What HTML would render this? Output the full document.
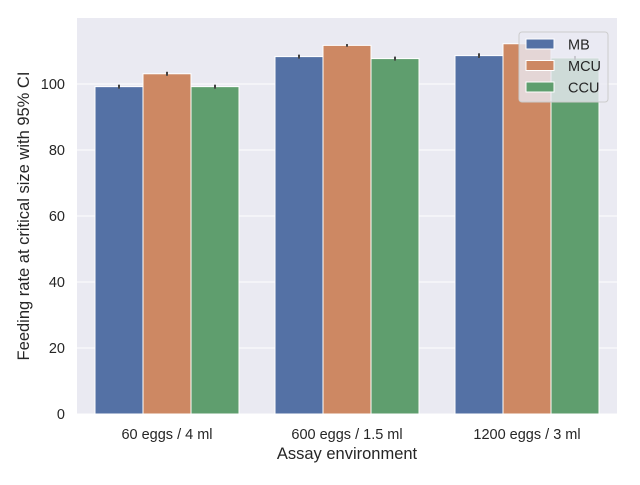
<!DOCTYPE html>
<html><head><meta charset="utf-8"><style>
body{margin:0;background:#fff;}
svg text{font-family:"Liberation Sans","DejaVu Sans",sans-serif;fill:#262626;}
</style></head><body>
<svg id="c" width="640" height="480"></svg>
<script>
const categories=["60 eggs / 4 ml","600 eggs / 1.5 ml","1200 eggs / 3 ml"];
const seriesNames=["MB","MCU","CCU"];
const mbValues=[99.2,108.3,108.6];
const mcuValues=[103.1,111.7,112.2];
const ccuValues=[99.2,107.7,107.9];
const mbErr=[0.6,0.6,0.7];
const mcuErr=[0.6,0.4,0.5];
const ccuErr=[0.6,0.6,0.6];
const yTicks=[0,20,40,60,80,100];
const colors=["#5471a5","#cd8863","#5f9e6e"];
const NS="http://www.w3.org/2000/svg";
const svg=document.getElementById('c');
const L=77,R=617,T=18,B=414,yMax=120;
const x=i=>L+(i+0.5)*(R-L)/categories.length;
const y=v=>B-v*(B-T)/yMax;
function mk(t,a,p){const e=document.createElementNS(NS,t);for(const k in a)e.setAttribute(k,a[k]);(p||svg).appendChild(e);return e;}
const bg=mk('rect',{x:L,y:T,width:R-L,height:B-T,fill:'#eaeaf2'});


yTicks.forEach(t=>{
 const g=mk('line',{x1:L,x2:R,y1:y(t),y2:y(t),stroke:'#fff','stroke-width':1});
 
 
 const tx=mk('text',{x:L-12,y:y(t)+5,'text-anchor':'end','font-size':14.5});
 tx.textContent=t;
 
 
});
const all=[mbValues,mcuValues,ccuValues],errs=[mbErr,mcuErr,ccuErr];
const gw=(R-L)/categories.length*0.8,bw=gw/3;
categories.forEach((c,i)=>{
 all.forEach((vals,s)=>{
  const bx=x(i)-gw/2+s*bw;
  const r=mk('rect',{x:bx,y:y(vals[i]),width:bw,height:B-y(vals[i]),fill:colors[s],stroke:'#fff','stroke-width':1});
  
  
  const e=mk('line',{x1:bx+bw/2,x2:bx+bw/2,y1:y(vals[i]+errs[s][i]),y2:y(vals[i]-errs[s][i]),stroke:'#424242','stroke-width':2});
  
  
 });
 const tx=mk('text',{x:x(i),y:B+25,'text-anchor':'middle','font-size':14.5});
 tx.textContent=c;
 
 
});
const xt=mk('text',{x:(L+R)/2,y:459,'text-anchor':'middle','font-size':16.5});
xt.textContent='Assay environment';


const yt=mk('text',{x:0,y:0,'text-anchor':'middle','font-size':16.5,transform:`translate(29,${(T+B)/2}) rotate(-90)`});
yt.textContent='Feeding rate at critical size with 95% CI';


const lg=mk('g',{});


mk('rect',{x:519,y:32,width:89,height:70,rx:3,fill:'#eaeaf2','fill-opacity':0.8,stroke:'#ccc'},lg);
seriesNames.forEach((n,s)=>{
 const cy=44+s*21.5;
 const sw=mk('rect',{x:526,y:cy-5,width:28,height:10,fill:colors[s],stroke:'#fff'},lg);
 
 
 const t=mk('text',{x:568,y:cy+5.5,'font-size':14.5},lg);
 t.textContent=n;
 
 
});
</script>
</body></html>
